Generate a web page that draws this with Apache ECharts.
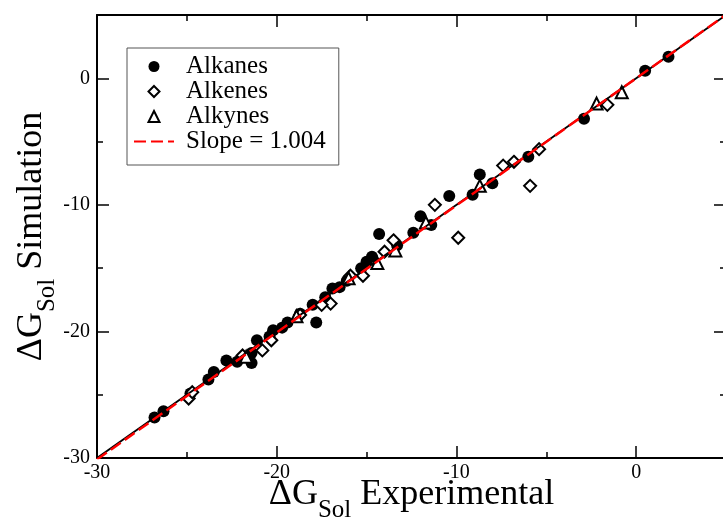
<!DOCTYPE html>
<html>
<head>
<meta charset="utf-8">
<script src="https://cdn.jsdelivr.net/npm/echarts@6/dist/echarts.min.js"></script>
<style>
  html, body { margin: 0; padding: 0; background: #ffffff; }
  #chart { width: 723px; height: 528px; }
</style>
</head>
<body>
<div id="chart"></div>
<script>
// Solvation free energies: [experimental, simulated]
const alkanes = [
  [1.8, 1.7], [0.5, 0.6], [-2.9, -3.2], [-6.0, -6.2], [-8.0, -8.3], [-8.7, -7.6],
  [-9.1, -9.2], [-10.4, -9.3], [-12.0, -10.9], [-11.4, -11.6], [-12.4, -12.2],
  [-14.3, -12.3], [-13.3, -13.2], [-14.7, -14.1], [-15.0, -14.5], [-15.3, -15.0],
  [-16.1, -16.0], [-16.5, -16.5], [-16.9, -16.6], [-17.3, -17.3], [-17.8, -19.3],
  [-18.0, -17.9], [-18.7, -18.6], [-19.4, -19.3], [-19.7, -19.7], [-20.2, -19.9],
  [-20.4, -20.4], [-21.1, -20.7], [-21.4, -21.7], [-21.4, -22.5], [-22.2, -22.4],
  [-22.8, -22.3], [-23.5, -23.2], [-23.8, -23.8], [-24.8, -24.9], [-26.3, -26.3],
  [-26.8, -26.8]
];
const alkenes = [
  [-1.6, -2.1], [-5.4, -5.6], [-6.8, -6.6], [-7.4, -6.9], [-5.9, -8.5],
  [-11.2, -10.0], [-9.9, -12.6], [-13.5, -12.8], [-14.0, -13.7], [-15.2, -15.6],
  [-15.9, -15.6], [-17.0, -17.8], [-17.5, -17.9], [-18.7, -18.7], [-20.3, -20.7],
  [-20.8, -21.5], [-21.9, -21.9], [-24.9, -25.3], [-24.7, -24.8]
];
const alkynes = [
  [-0.8, -1.1], [-2.2, -2.0], [-8.7, -8.5], [-11.7, -11.4], [-13.4, -13.6],
  [-14.4, -14.6], [-18.9, -18.8], [-21.7, -22.0], [-16.0, -15.8]
];
const fitSlope = 1.004;
const axisMin = -30;
const axisMax = 5;
const majorStep = 10;
const minorStep = 5;
const seriesNames = ['Alkanes', 'Alkenes', 'Alkynes', 'Slope = ' + fitSlope.toFixed(3)];

const serif = 'Liberation Serif, Times New Roman, serif';
const ink = '#000';

// square-aspect marker outlines for the legend
const diamondIcon = 'path://M5,0L10,5L5,10L0,5Z';
const triangleIcon = 'path://M5,0L10,10L0,10Z';

const titleRich = {
  a: { fontFamily: serif, fontSize: 36, lineHeight: 36, color: ink, verticalAlign: 'top' },
  s: { fontFamily: serif, fontSize: 25, lineHeight: 25, color: ink, verticalAlign: 'top', padding: [21, 0, 0, 0] }
};

function majorAxis(pos, withLabels, labelMargin, name, nameGap) {
  return {
    type: 'value', min: axisMin, max: axisMax, interval: majorStep, position: pos,
    axisLine: { show: true, onZero: false, lineStyle: { color: ink, width: 2 } },
    axisTick: { show: true, inside: true, length: 12, lineStyle: { color: ink, width: 1.5 } },
    splitLine: { show: false },
    axisLabel: {
      show: withLabels, showMaxLabel: false, margin: labelMargin || 0,
      fontFamily: serif, fontSize: 20, color: ink
    },
    name: name || '', nameLocation: 'middle', nameGap: nameGap || 0,
    nameMoveOverlap: false,
    nameTextStyle: { rich: titleRich }
  };
}
function minorAxis(pos) {
  return {
    type: 'value', min: axisMin, max: axisMax, interval: minorStep, position: pos,
    axisLine: { show: false, onZero: false },
    axisTick: { show: true, inside: true, length: 6, lineStyle: { color: ink, width: 1.5 } },
    splitLine: { show: false },
    axisLabel: { show: false }
  };
}

const chart = echarts.init(document.getElementById('chart'), null, { renderer: 'canvas' });
chart.setOption({
  animation: false,
  backgroundColor: '#ffffff',
  grid: { left: 97, top: 15, width: 629, height: 443, containLabel: false, outerBoundsMode: 'none' },
  xAxis: [
    majorAxis('bottom', true, 5, '{a|ΔG}{s|Sol}{a| Experimental}', 19),
    minorAxis('bottom'),
    majorAxis('top', false),
    minorAxis('top')
  ],
  yAxis: [
    majorAxis('left', true, 7, '{a|ΔG}{s|Sol}{a| Simulation}', 47),
    minorAxis('left'),
    majorAxis('right', false),
    minorAxis('right')
  ],
  legend: {
    orient: 'vertical', left: 127, top: 48,
    padding: [6, 13, 11, 6], itemGap: 0, itemWidth: 40, itemHeight: 11,
    symbolKeepAspect: true,
    borderColor: '#555', borderWidth: 1, backgroundColor: '#fff',
    selectedMode: false,
    textStyle: { fontFamily: serif, fontSize: 25, lineHeight: 24, color: ink, padding: [0, 0, 0, 7] },
    data: [
      { name: seriesNames[0], icon: 'circle' },
      { name: seriesNames[1], icon: diamondIcon },
      { name: seriesNames[2], icon: triangleIcon },
      { name: seriesNames[3], itemStyle: { opacity: 0 } }
    ]
  },
  series: [
    {
      name: seriesNames[0], type: 'scatter', data: alkanes, symbol: 'circle', symbolSize: 12,
      itemStyle: { color: ink, opacity: 1 }
    },
    {
      name: seriesNames[1], type: 'scatter', data: alkenes, symbol: 'diamond', symbolSize: 12,
      itemStyle: { color: '#fff', borderColor: ink, borderWidth: 2, opacity: 1 }
    },
    {
      name: seriesNames[2], type: 'scatter', data: alkynes, symbol: 'triangle', symbolSize: 12,
      itemStyle: { color: '#fff', borderColor: ink, borderWidth: 2, opacity: 1 }
    },
    {
      // identity line
      type: 'line', data: [[axisMin, axisMin], [axisMax, axisMax]], symbol: 'none', silent: true,
      lineStyle: { color: ink, width: 2 }
    },
    {
      name: seriesNames[3], type: 'line', symbol: 'none', silent: true,
      data: [[axisMin, axisMin * fitSlope], [axisMax, axisMax * fitSlope]],
      itemStyle: { color: '#ff0000' },
      lineStyle: { color: '#ff0000', width: 2.5, type: [12, 5] }
    }
  ]
});
</script>
</body>
</html>
